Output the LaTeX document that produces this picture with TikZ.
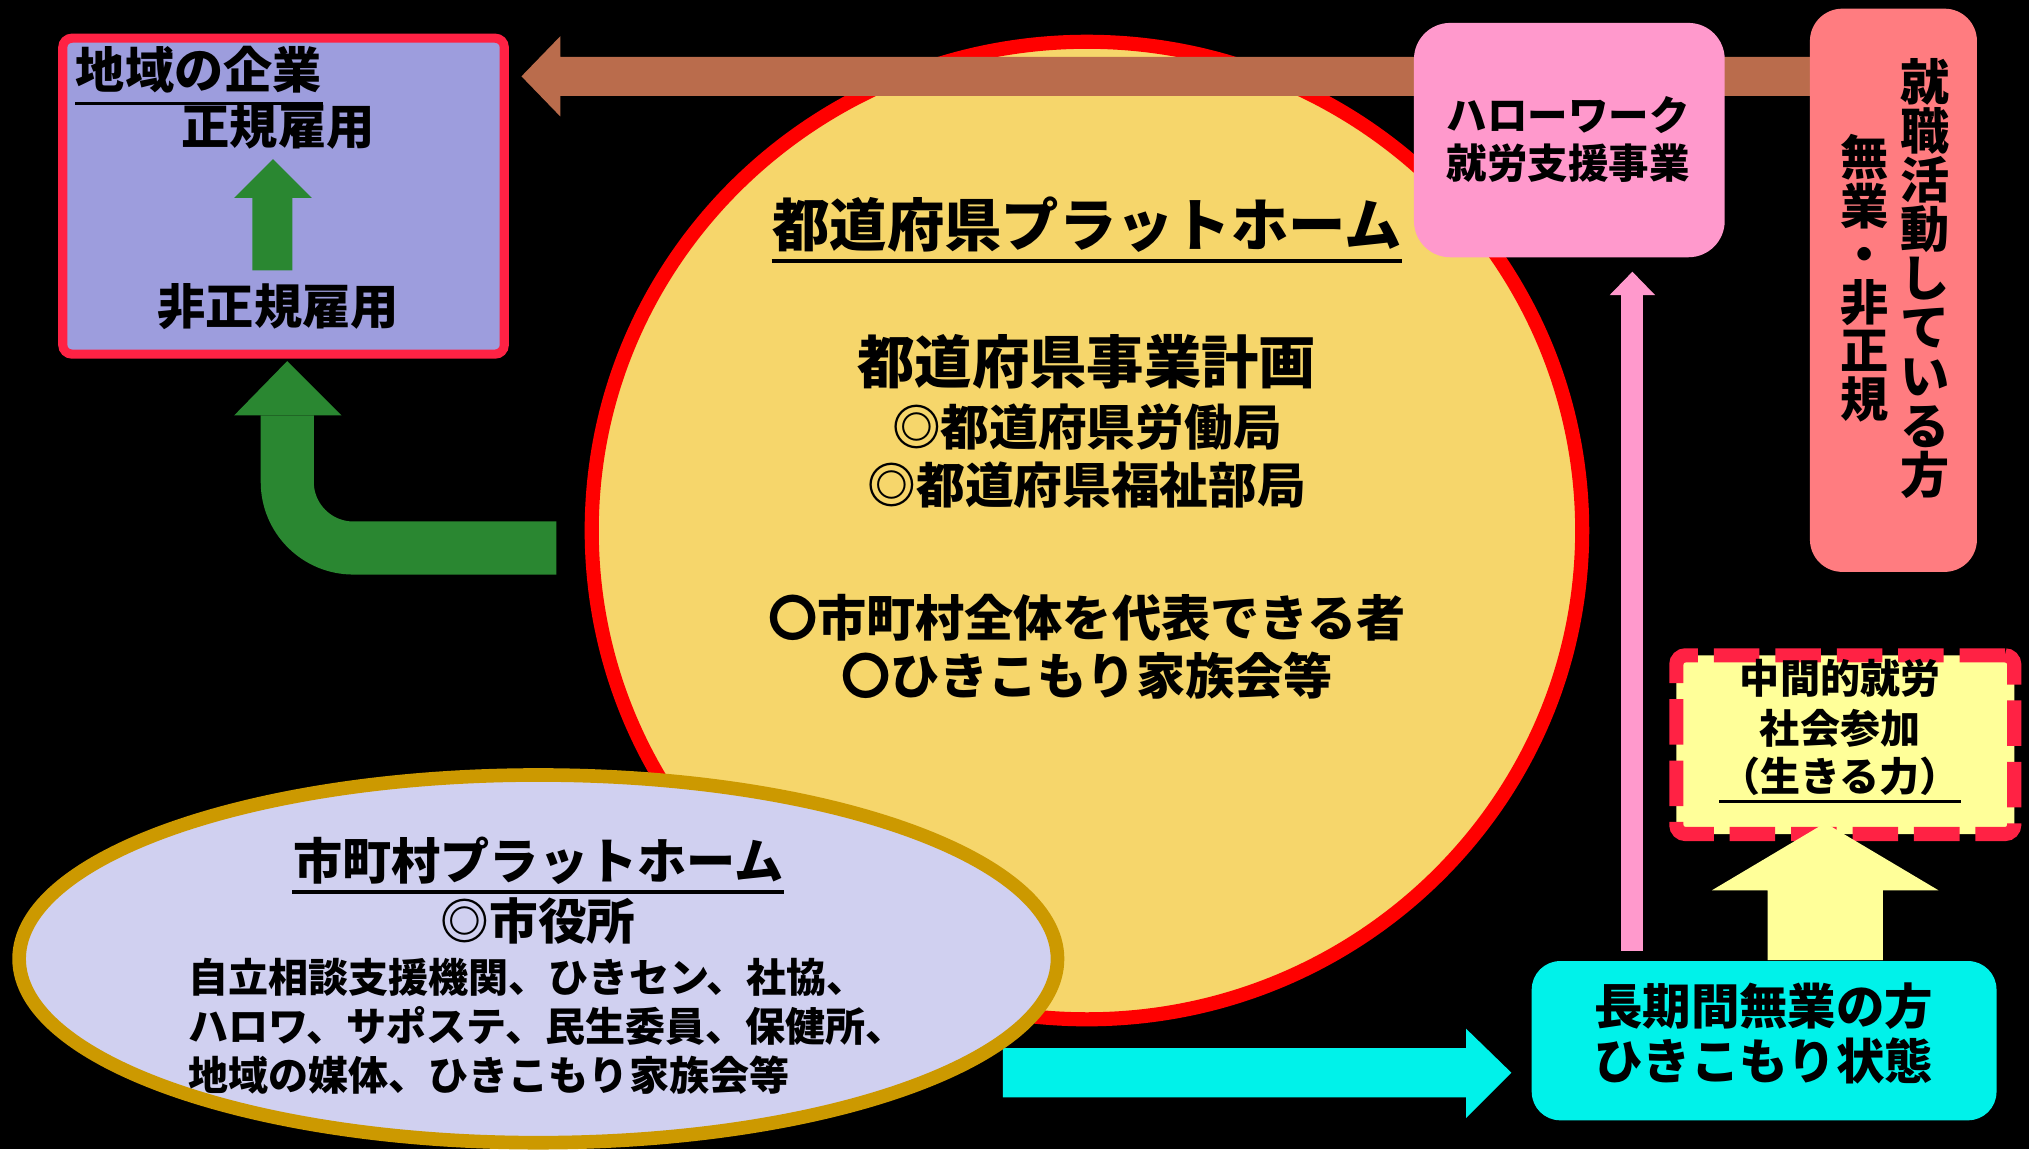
\documentclass[tikz,border=0pt]{standalone}
\usepackage{fontspec}
\setmainfont{Noto Sans CJK JP}
\usetikzlibrary{shapes.geometric}
\definecolor{boxpurple}{HTML}{9D9DDD}
\definecolor{boxred}{HTML}{FF2244}
\definecolor{arrowgreen}{HTML}{2A8731}
\definecolor{arrowbrown}{HTML}{BA6C4C}
\definecolor{prefyellow}{HTML}{F6D66B}
\definecolor{prefred}{HTML}{FF0000}
\definecolor{hwpink}{HTML}{FF99CC}
\definecolor{salmonbox}{HTML}{FF7C80}
\definecolor{cyanbox}{HTML}{00F2EA}
\definecolor{lightyellow}{HTML}{FFFF99}
\definecolor{cityfill}{HTML}{D0D0F0}
\definecolor{citygold}{HTML}{CC9900}
\tikzset{
  jp/.style n args={2}{font=\bfseries\fontsize{#1}{#2}\selectfont, inner sep=0pt, text=black, align=center},
  uline/.style={line width=0.8pt, black},
  plainbox/.style={inner sep=0pt, anchor=north west},
}
\begin{document}
\begin{tikzpicture}[x=0.01cm,y=-0.01cm]
\useasboundingbox (0,0) rectangle (1568,888);
\fill[black] (0,0) rectangle (1568,888);

% prefecture platform circle
\node (pref) [ellipse, draw=prefred, fill=prefyellow, line width=3.1pt, minimum width=7.65cm, minimum height=7.55cm, inner sep=0pt] at (840,410) {};

% brown arrow to companies
\coordinate (brownTip) at (403,59);
\fill[arrowbrown] (brownTip) -- (433,28) -- (433,44) -- (1410,44) -- (1410,74) -- (433,74) -- (433,90) -- cycle;

% companies box
\node (firm) [plainbox, draw=boxred, fill=boxpurple, line width=2pt, rounded corners=2pt, minimum width=3.41cm, minimum height=2.44cm] at (45,26) {};
\node (firmT) [jp={10.8}{10.8}, anchor=west] at (58,54) {地域の企業};
\draw[uline] ([yshift=-2pt]firmT.south west) -- ([yshift=-2pt]firmT.south east);
\node (reg) [jp={10.6}{10.6}] at (215,98) {正規雇用};
\node (nonreg) [jp={10.6}{10.6}] at (215,237) {非正規雇用};
\fill[arrowgreen] (195,209) -- (195,153) -- (181,153) -- (211,123) -- (241,153) -- (226,153) -- (226,209) -- cycle;

% green bent arrow
\coordinate (greenStart) at (430,423.5);
\coordinate (greenTip) at (222,279);
\draw[arrowgreen, line width=0.41cm, rounded corners=0.51cm] (greenStart) -- (222,423.5) -- (222,321);
\fill[arrowgreen] (181,321) -- (greenTip) -- (264,321) -- cycle;

% texts in prefecture circle
\node (prefT) [jp={12.6}{12.6}] at (840,174) {都道府県プラットホーム};
\draw[uline] ([yshift=-1.5pt]prefT.south west) -- ([yshift=-1.5pt]prefT.south east);
\node (plan) [jp={12.6}{12.6}] at (840,280) {都道府県事業計画};
\node (labor) [jp={10.7}{10.7}] at (840,330) {◎都道府県労働局};
\node (welfare) [jp={10.7}{10.7}] at (840,375) {◎都道府県福祉部局};
\node (rep) [jp={10.8}{10.8}] at (840,477) {〇市町村全体を代表できる者};
\node (family) [jp={10.8}{10.8}] at (840,522) {〇ひきこもり家族会等};

% hello work box
\node (hw) [plainbox, fill=hwpink, rounded corners=0.28cm, minimum width=2.4cm, minimum height=1.81cm] at (1092,17) {};
\node (hwT) [jp={8.9}{10.5}] at (1212,108) {ハローワーク\\就労支援事業};

% job seekers box
\node (job) [plainbox, fill=salmonbox, rounded corners=0.25cm, minimum width=1.29cm, minimum height=4.35cm] at (1398,6) {};
\node (jobA) [jp={10.8}{10.8}] at (1488,215) {就\\職\\活\\動\\し\\て\\い\\る\\方};
\node (jobB) [jp={10.6}{10.6}] at (1441,215) {無\\業\\・\\非\\正\\規};

% pink arrow
\fill[hwpink] (1253,735) rectangle (1270,227);
\fill[hwpink] (1244,228) -- (1261.5,210) -- (1279,228) -- cycle;

% intermediate employment box
\node (mid) [plainbox, fill=lightyellow, draw=boxred, line width=3.1pt, dash pattern=on 10pt off 3.5pt, rounded corners=2pt, minimum width=2.61cm, minimum height=1.38cm] at (1290,501) {};
\node (midA) [jp={8.8}{8.8}] at (1422,524) {中間的就労};
\node (midB) [jp={8.8}{8.8}] at (1422,563) {社会参加};
\node (midC) [jp={8.8}{8.8}] at (1422,600) {（生きる力）};
\draw[line width=0.6pt, black] ([yshift=-1pt]midC.south west) -- ([yshift=-1pt]midC.south east);

% light yellow arrow
\fill[lightyellow] (1366,742) -- (1366,688) -- (1323,688) -- (1410.5,636) -- (1498,688) -- (1455,688) -- (1455,742) -- cycle;

% long-term unemployed box
\node (hikiko) [plainbox, fill=cyanbox, rounded corners=0.22cm, minimum width=3.59cm, minimum height=1.23cm] at (1183,742) {};
\node (hikikoT) [jp={10.65}{12.2}] at (1363,798.5) {長期間無業の方\\ひきこもり状態};

% cyan arrow
\coordinate (cyanTip) at (1168,829);
\fill[cyanbox] (775,810) -- (1133,810) -- (1133,795) -- (cyanTip) -- (1133,864) -- (1133,848) -- (775,848) -- cycle;

% municipal platform ellipse
\node (city) [ellipse, draw=citygold, fill=cityfill, line width=3pt, minimum width=8.02cm, minimum height=2.84cm, inner sep=0pt] at (416,741) {};
\node (cityT) [jp={10.8}{10.8}] at (416,665) {市町村プラットホーム};
\draw[uline] ([yshift=-1.5pt]cityT.south west) -- ([yshift=-1.5pt]cityT.south east);
\node (cityhall) [jp={10.7}{10.7}] at (416,712) {◎市役所};
\node (members) [jp={8.8}{10.8}, anchor=west, align=left] at (145,793) {自立相談支援機関、ひきセン、社協、\\ハロワ、サポステ、民生委員、保健所、\\地域の媒体、ひきこもり家族会等};
\end{tikzpicture}
\end{document}
